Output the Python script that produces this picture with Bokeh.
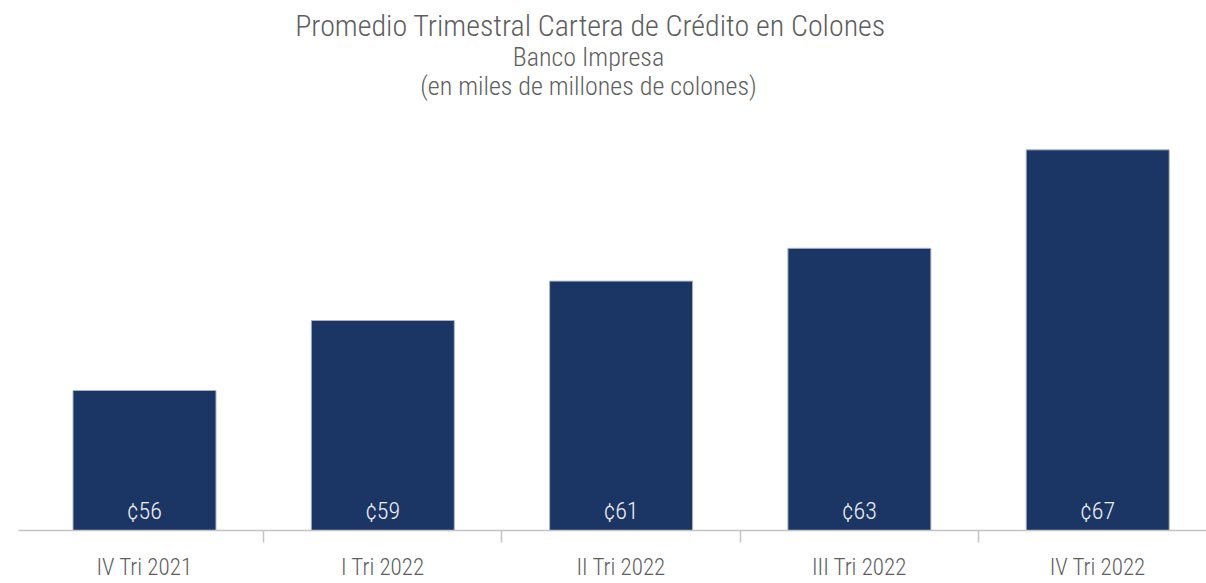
from bokeh.plotting import figure
from bokeh.models import Range1d, FixedTicker, Label, ColumnDataSource
from bokeh.core.properties import value
from bokeh.embed import file_html
from bokeh.resources import INLINE

# ---- data ----
categories = ["IV Tri 2021", "I Tri 2022", "II Tri 2022", "III Tri 2022", "IV Tri 2022"]
values = [56.0, 59.2, 61.0, 62.5, 67.0]
value_labels = ["¢56", "¢59", "¢61", "¢63", "¢67"]
title_lines = [
    "Promedio Trimestral Cartera de Crédito en Colones",
    "Banco Impresa",
    "(en miles de millones de colones)",
]

FONT = "'Roboto Condensed Light', 'Roboto Condensed', 'Roboto Light', Roboto"
BAR = "#1b3564"
GREY_TXT = "#5e5e5e"
AXIS = "#c4c4c4"

# ---- layout ----
W, H = 1206, 583
BORDER_L, BORDER_B = 18, 50
frame_w = W - BORDER_L
frame_h = H - BORDER_B
PX_X = 238.3          # pixels per category
Y0 = 49.6             # value at baseline
PX_Y = 22.0           # pixels per unit
X0 = -126.0 / PX_X
X1 = X0 + frame_w / PX_X
Y1 = Y0 + frame_h / PX_Y

def px_to_x(px):
    return X0 + (px - BORDER_L) / PX_X

def py_to_y(py):
    return Y0 + (frame_h - py) / PX_Y

p = figure(width=W, height=H, x_range=Range1d(X0, X1), y_range=Range1d(Y0, Y1),
           output_backend="svg", toolbar_location=None, y_axis_location=None,
           min_border_left=BORDER_L, min_border_right=0, min_border_top=0,
           min_border_bottom=BORDER_B)
p.outline_line_color = None
p.xgrid.visible = False
p.ygrid.visible = False
p.background_fill_color = "white"
p.border_fill_color = "white"

xs = list(range(len(categories)))
src = ColumnDataSource(dict(x=xs, top=values, lab=value_labels,
                            ly=[Y0 + 20 / PX_Y] * len(xs)))
p.vbar(x="x", top="top", bottom=Y0, width=0.6, source=src,
       fill_color=BAR, line_color="#aab2c2", line_width=1)
p.text(x="x", y="ly", text="lab", source=src, text_align="center",
       text_baseline="middle", text_color="#eef0f5",
       text_font=value(FONT), text_font_size="24px")

ax = p.xaxis[0]
ax.ticker = FixedTicker(ticks=xs, minor_ticks=[i + 0.5 for i in xs[:-1]])
ax.major_label_overrides = {i: c for i, c in zip(xs, categories)}
ax.major_tick_line_color = None
ax.major_tick_out = 0
ax.major_tick_in = 0
ax.minor_tick_in = 0
ax.minor_tick_out = 12
ax.minor_tick_line_color = AXIS
ax.minor_tick_line_width = 1.5
ax.axis_line_color = AXIS
ax.axis_line_width = 1.5
ax.major_label_standoff = 11
ax.major_label_text_font = FONT
ax.major_label_text_font_size = "23px"
ax.major_label_text_color = GREY_TXT

# titles
title_pos = [(590, 25, "30px"), (588, 57, "26px"), (588, 86, "26px")]
for txt, (px, py, fs) in zip(title_lines, title_pos):
    p.add_layout(Label(x=px_to_x(px), y=py_to_y(py), text=txt,
                       text_align="center", text_baseline="middle",
                       text_font=FONT, text_font_size=fs, text_color=GREY_TXT))

open("out.html", "w").write(file_html(p, INLINE))
